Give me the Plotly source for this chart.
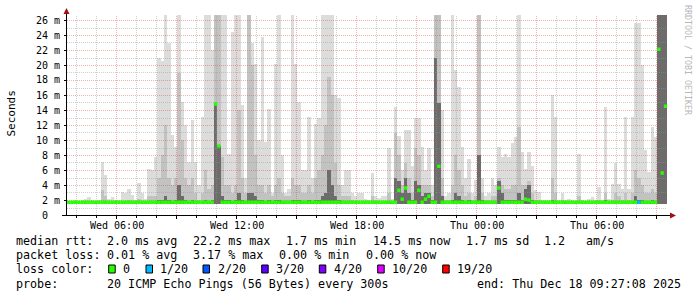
import plotly.graph_objects as go

# ---------------- data ----------------
# 10-minute steps, first step starts Wed 03:32 (minutes since Wed 00:00)
step_minutes = 10
first_step_min = 212

smoke_floor_ms = 1.5

smoke_max_ms = [
    1.9, 1.9, 2.0, 1.9, 2.0, 2.2, 2.4, 2.0, 1.9, 2.0, 7.1, 5.3, 2.2, 2.4, 2.0,
    2.0, 3.1, 2.9, 3.5, 2.7, 2.0, 4.3, 2.9, 2.2, 6.1, 6.0, 7.8, 20.9, 20.5, 27,
    22.9, 10.7, 9.1, 27, 15.1, 12.0, 7.1, 12.7, 7.1, 4.0, 13.1, 27, 27, 22.0, 27,
    27, 27, 27, 8.2, 24.4, 27, 27, 14.7, 5.0, 27, 22.9, 20.2, 10.0, 23.8, 9.8,
    14.2, 3.0, 20.2, 27, 8.0, 3.0, 3.5, 27, 20.2, 15.1, 6.0, 6.0, 13.1, 5.0, 12.2,
    12.9, 27, 27, 27, 27, 16.0, 15.6, 4.0, 6.0, 6.0, 3.0, 2.5, 3.0, 3.0, 2.2,
    2.0, 5.6, 2.5, 2.3, 2.5, 2.5, 8.9, 2.2, 14.4, 10.5, 6.0, 11.3, 11.3, 6.5, 12.9,
    12.9, 9.1, 6.0, 8.9, 4.0, 27, 27, 14.0, 2.5, 2.9, 27, 19.3, 17.1, 9.1, 5.0,
    7.5, 3.0, 4.7, 27, 5.0, 2.5, 3.0, 5.0, 4.0, 9.1, 7.8, 8.2, 7.8, 9.6, 10.4,
    27, 8.4, 6.2, 8.4, 6.6, 3.3, 3.1, 2.0, 2.0, 2.0, 16.0, 13.1, 2.0, 2.9, 2.0,
    2.2, 2.0, 1.9, 8.2, 2.0, 1.9, 2.2, 2.4, 2.0, 3.8, 2.0, 14.4, 2.2, 4.2, 6.9,
    4.2, 3.5, 13.1, 3.5, 13.1, 25.6, 25.6, 20.0, 8.7, 5.8, 11.8, 10.4, 27, 27, 27,
]

smoke_mid_ms = [
    1.5, 1.5, 1.5, 1.5, 1.5, 1.5, 1.6, 1.5, 1.5, 1.5, 3.3, 2.5, 1.5, 1.6, 1.5,
    1.5, 1.8, 1.8, 2.0, 1.8, 1.5, 2.2, 1.8, 1.6, 2.5, 2.5, 2.5, 5.0, 8.0, 12.0,
    5.0, 4.0, 5.0, 19.0, 10.0, 5.0, 4.0, 5.0, 3.0, 2.0, 3.0, 6.0, 3.5, 4.0, 27,
    27, 7.8, 4.0, 4.0, 3.0, 4.0, 14.0, 5.0, 3.0, 27, 20.0, 8.0, 4.0, 4.0, 3.0,
    4.0, 2.5, 4.0, 5.0, 3.0, 2.5, 2.5, 5.0, 4.0, 4.0, 3.0, 3.0, 4.0, 3.0, 5.0,
    6.0, 8.0, 12.0, 18.4, 16.0, 7.0, 4.0, 2.5, 2.5, 2.5, 2.0, 1.6, 1.6, 1.6, 1.5,
    1.5, 2.5, 1.8, 1.8, 1.8, 1.8, 3.0, 1.8, 11.0, 8.0, 4.0, 7.0, 5.0, 3.0, 9.0,
    8.0, 4.0, 4.0, 4.0, 2.5, 27, 27, 5.0, 2.0, 2.0, 4.0, 8.0, 6.0, 4.0, 2.5,
    3.0, 2.0, 2.5, 27, 3.0, 2.0, 2.0, 2.5, 2.5, 5.0, 4.0, 3.5, 3.5, 4.0, 4.0,
    11.8, 4.0, 4.0, 4.5, 3.0, 2.0, 2.0, 1.5, 1.5, 1.5, 5.0, 3.0, 1.5, 2.0, 1.5,
    1.6, 1.5, 1.5, 2.5, 1.5, 1.5, 1.6, 1.6, 1.5, 2.0, 1.5, 3.0, 1.5, 2.0, 3.0,
    2.5, 2.0, 3.0, 2.0, 3.0, 6.0, 5.0, 4.0, 3.0, 3.0, 3.5, 3.0, 27, 27, 27,
]

smoke_dark_ms = [
    1.5, 1.5, 1.5, 1.5, 1.5, 1.5, 1.5, 1.5, 1.5, 1.5, 1.5, 1.5, 1.5, 1.5, 1.5,
    1.5, 1.5, 1.5, 1.5, 1.5, 1.5, 1.5, 1.5, 1.5, 1.5, 1.5, 1.5, 2.0, 2.0, 2.5,
    2.0, 1.8, 2.0, 4.0, 2.5, 2.0, 1.8, 2.0, 1.8, 1.5, 1.8, 2.0, 1.8, 2.0, 14.8,
    9.2, 2.5, 2.0, 2.0, 1.8, 2.0, 3.0, 2.0, 1.8, 3.0, 3.0, 2.5, 2.0, 2.0, 1.8,
    2.0, 1.8, 2.0, 2.0, 1.8, 1.5, 1.5, 2.0, 2.0, 2.0, 1.8, 1.8, 2.0, 1.8, 2.0,
    2.0, 2.5, 3.0, 6.0, 4.0, 2.5, 2.0, 1.5, 1.5, 1.5, 1.5, 1.5, 1.5, 1.5, 1.5,
    1.5, 1.5, 1.5, 1.5, 1.5, 1.5, 1.8, 1.5, 5.0, 4.5, 3.0, 5.0, 3.0, 2.0, 4.5,
    4.0, 2.5, 3.0, 3.0, 2.0, 21.0, 15.0, 2.5, 1.5, 1.5, 2.0, 3.0, 2.5, 2.0, 1.5,
    2.0, 1.5, 1.5, 8.0, 2.0, 1.5, 1.5, 1.5, 1.5, 4.5, 3.0, 2.0, 2.0, 2.0, 2.0,
    3.0, 2.0, 3.5, 4.0, 2.0, 1.5, 1.5, 1.5, 1.5, 1.5, 2.0, 1.8, 1.5, 1.5, 1.5,
    1.5, 1.5, 1.5, 1.5, 1.5, 1.5, 1.5, 1.5, 1.5, 1.5, 1.5, 2.0, 1.5, 1.5, 1.5,
    1.5, 1.5, 1.8, 1.5, 1.8, 2.5, 2.0, 2.0, 1.8, 1.8, 2.0, 1.8, 27, 27, 27,
]

median_ms = [
    1.7, 1.7, 1.7, 1.7, 1.7, 1.7, 1.7, 1.7, 1.7, 1.7, 1.7, 1.7, 1.7, 1.7, 1.7,
    1.7, 1.7, 1.7, 1.7, 1.7, 1.7, 1.7, 1.7, 1.7, 1.7, 1.7, 1.7, 1.7, 1.7, 1.7,
    1.7, 1.7, 1.7, 1.7, 1.7, 1.7, 1.7, 1.7, 1.7, 1.7, 1.7, 1.7, 1.7, 1.7, 14.8,
    9.2, 1.7, 1.7, 1.7, 1.7, 1.7, 1.7, 1.7, 1.7, 1.7, 1.7, 1.7, 1.7, 1.7, 1.7,
    1.7, 1.7, 1.7, 1.7, 1.7, 1.7, 1.7, 1.7, 1.7, 1.7, 1.7, 1.7, 1.7, 1.7, 1.7,
    1.7, 1.7, 1.7, 1.7, 1.7, 1.7, 1.7, 1.7, 1.7, 1.7, 1.7, 1.7, 1.7, 1.7, 1.7,
    1.7, 1.7, 1.7, 1.7, 1.7, 1.7, 1.7, 1.7, 1.7, 3.3, 2.1, 3.6, 1.7, 1.7, 1.7,
    3.3, 1.7, 2.1, 2.5, 1.7, 1.7, 6.5, 1.7, 1.7, 1.7, 1.7, 1.7, 1.7, 1.7, 1.7,
    1.7, 1.7, 1.7, 1.7, 1.7, 1.7, 1.7, 1.7, 1.7, 3.6, 1.7, 1.7, 1.7, 1.7, 1.7,
    1.7, 1.7, 2.1, 2.0, 1.7, 1.7, 1.7, 1.7, 1.7, 1.7, 1.7, 1.7, 1.7, 1.7, 1.7,
    1.7, 1.7, 1.7, 1.7, 1.7, 1.7, 1.7, 1.7, 1.7, 1.7, 1.7, 1.7, 1.7, 1.7, 1.7,
    1.7, 1.7, 1.7, 1.7, 1.7, 1.7, 1.7, 1.7, 1.7, 1.7, 1.7, 1.7, 22.1, 5.6, 14.5,
]

# packet loss (pings lost out of 20) at the steps where it happened
loss_step = [171]
loss_of_20 = [1]

loss_levels = [0, 1, 2, 3, 4, 10, 19]
loss_labels = ["0", "1/20", "2/20", "3/20", "4/20", "10/20", "19/20"]
loss_colors = ["#26ff00", "#00b8ff", "#0059ff", "#5e00ff", "#7e00ff", "#dd00ff", "#ff0000"]

x_tick_vals = [360, 720, 1080, 1440, 1800]
x_tick_labels = ["Wed 06:00", "Wed 12:00", "Wed 18:00", "Thu 00:00", "Thu 06:00"]
y_tick_vals = [0, 2, 4, 6, 8, 10, 12, 14, 16, 18, 20, 22, 24, 26]
y_tick_labels = ["0", "2 m", "4 m", "6 m", "8 m", "10 m", "12 m", "14 m",
                 "16 m", "18 m", "20 m", "22 m", "24 m", "26 m"]

stats_rtt = ["median rtt:", "2.0 ms avg", "22.2 ms max", "1.7 ms min",
             "14.5 ms now", "1.7 ms sd", "1.2", "am/s"]
stats_loss = ["packet loss:", "0.01 % avg", "3.17 % max", "0.00 % min", "0.00 % now"]
probe_text = "20 ICMP Echo Pings (56 Bytes) every 300s"
end_text = "end: Thu Dec 18 09:27:08 2025"

# ---------------- layout geometry ----------------
W, H = 697, 297
PL, PR, PT, PB = 67, 667, 15, 215
X_RANGE = [211.5, 2011.5]
PX_PER_MS = 7.5
Y_TOP = (PB - PT) / PX_PER_MS
Y_RANGE = [0, Y_TOP]
MONO = "DejaVu Sans Mono"


def px(x):
    return (x - PL) / (PR - PL)


def py(y):
    return (PB - y) / (PB - PT)


n = len(median_ms)
t_start = [first_step_min + step_minutes * i for i in range(n)]
centers = [t + step_minutes / 2 for t in t_start]

fig = go.Figure()

# smoke
for tops, color in [(smoke_max_ms, "#dcdcdc"), (smoke_mid_ms, "#c2c2c2"), (smoke_dark_ms, "#6c6c6c")]:
    fig.add_trace(go.Bar(
        x=centers, y=[max(v - smoke_floor_ms, 0) for v in tops], base=smoke_floor_ms,
        width=step_minutes, marker=dict(color=color, line=dict(width=0)),
        hoverinfo="skip", showlegend=False))

# grid (drawn over the smoke, under the median line)
grid_minor = "rgba(150,150,150,0.45)"
grid_major = "rgba(225,60,60,0.4)"
for major in (False, True):
    gx, gy = [], []
    for m in range(240, 2011, 60):
        if (m % 180 == 0) == major:
            gx += [m, m, None]
            gy += [0, Y_TOP, None]
    for v in range(1, 27):
        if (v % 2 == 0) == major:
            row = round(PB - v * PX_PER_MS) + 0.5
            yv = (PB - row) / PX_PER_MS
            gx += [X_RANGE[0], X_RANGE[1], None]
            gy += [yv, yv, None]
    fig.add_trace(go.Scatter(x=gx, y=gy, mode="lines",
                             line=dict(color=grid_major if major else grid_minor, width=1, dash="1px,1px"),
                             hoverinfo="skip", showlegend=False))

# median line coloured by packet loss
loss_at = dict(zip(loss_step, loss_of_20))
for lvl, col in zip(loss_levels, loss_colors):
    xs, ys = [], []
    for i in range(n):
        if loss_at.get(i, 0) == lvl:
            xs += [t_start[i], t_start[i] + step_minutes, None]
            ys += [median_ms[i], median_ms[i], None]
    if xs:
        fig.add_trace(go.Scatter(x=xs, y=ys, mode="lines",
                                 line=dict(color=col, width=3.5),
                                 hoverinfo="skip", showlegend=False))

shapes = []
# axis lines and arrows
shapes.append(dict(type="line", xref="paper", yref="paper", x0=px(66.5), x1=px(66.5), y0=py(216), y1=py(12),
                   line=dict(color="black", width=1), layer="above"))
shapes.append(dict(type="line", xref="paper", yref="paper", x0=px(62), x1=px(671), y0=py(215.5), y1=py(215.5),
                   line=dict(color="black", width=1), layer="above"))
arrow_col = "#a01010"
shapes.append(dict(type="path", xref="paper", yref="paper",
                   path=f"M {px(66.5)} {py(8)} L {px(63.5)} {py(14)} L {px(69.5)} {py(14)} Z",
                   fillcolor=arrow_col, line=dict(color=arrow_col, width=0), layer="above"))
shapes.append(dict(type="path", xref="paper", yref="paper",
                   path=f"M {px(676)} {py(215.5)} L {px(670)} {py(212.5)} L {px(670)} {py(218.5)} Z",
                   fillcolor=arrow_col, line=dict(color=arrow_col, width=0), layer="above"))

annotations = []


def text(x, y, s, size=11.7, anchor="left", color="black", angle=0, xref="paper"):
    annotations.append(dict(
        x=x if xref != "paper" else px(x), y=py(y), xref=xref, yref="paper", text=s,
        showarrow=False, xanchor=anchor, yanchor="middle", textangle=angle,
        borderpad=0, borderwidth=0,
        font=dict(family=MONO, size=size, color=color)))


# y tick labels
for v, lab in zip(y_tick_vals, y_tick_labels):
    right = 59.8 if " " in lab else 59.8 - 2 * 6.02
    text(right, PB - v * PX_PER_MS, lab, size=10, anchor="right")
# x tick labels
for v, lab in zip(x_tick_vals, x_tick_labels):
    text(v, 225, lab, size=10, anchor="center", xref="x")

text(10.5, 114, "Seconds", size=11, anchor="center", angle=-90)
text(688, 60, "RRDTOOL / TOBI OETIKER", size=8.3, anchor="center", angle=90, color="#b8b8b8")

# legend rows
rtt_x = [15.5, 106.8, 192.8, 286.2, 372.5, 465.5, 543.8, 585.8]
for x, s in zip(rtt_x, stats_rtt):
    text(x, 241.3, s)
loss_x = [15.5, 106.8, 192.8, 278.8, 365.5]
for x, s in zip(loss_x, stats_loss):
    text(x, 255.3, s)
text(15.5, 269.3, "loss color:")
box_x = [108.7, 146.0, 203.0, 261.7, 319.3, 377.7, 442.7]
lab_x = [122.8, 160.2, 217.8, 276.2, 333.5, 392.2, 456.8]
for bx, lx, col, lab in zip(box_x, lab_x, loss_colors, loss_labels):
    shapes.append(dict(type="rect", xref="paper", yref="paper",
                       x0=px(bx), x1=px(bx + 6.5), y0=py(273), y1=py(265),
                       fillcolor=col, line=dict(color="black", width=1), layer="above"))
    text(lx, 269.3, lab)
text(15.5, 283.7, "probe:")
text(106.8, 283.7, probe_text)
text(680.5, 283.7, end_text, anchor="right")

fig.update_layout(
    width=W, height=H,
    margin=dict(l=PL, r=W - PR, t=PT, b=H - PB, pad=0),
    paper_bgcolor="white", plot_bgcolor="white",
    barmode="overlay", bargap=0, showlegend=False,
    shapes=shapes, annotations=annotations,
    xaxis=dict(range=X_RANGE, showgrid=False, zeroline=False, showline=False,
               ticks="outside", tickvals=list(range(360, 2011, 180)), ticklen=3,
               tickcolor="black", showticklabels=False,
               minor=dict(ticks="outside", tickvals=list(range(240, 2011, 60)), ticklen=2,
                          tickcolor="black", showgrid=False)),
    yaxis=dict(range=Y_RANGE, showgrid=False, zeroline=False, showline=False,
               ticks="outside", tickvals=y_tick_vals, ticklen=2, tickcolor="black",
               showticklabels=False),
)

fig.write_html("out.html")
